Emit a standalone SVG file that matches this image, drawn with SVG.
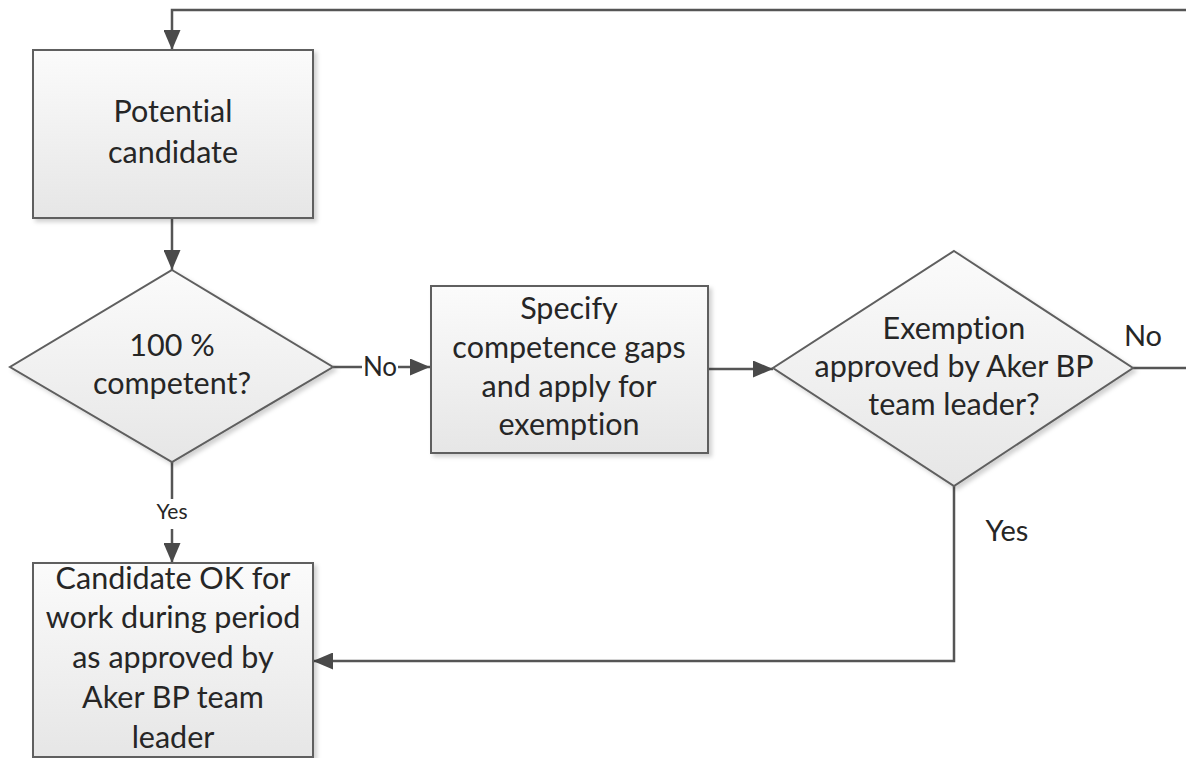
<svg xmlns="http://www.w3.org/2000/svg" width="1186" height="758" viewBox="0 0 1186 758">
<defs>
<linearGradient id="g" x1="0" y1="0" x2="0" y2="1">
<stop offset="0" stop-color="#fbfbfb"/>
<stop offset="1" stop-color="#e6e6e6"/>
</linearGradient>
<filter id="sh" x="-10%" y="-10%" width="125%" height="125%">
<feDropShadow dx="3" dy="3" stdDeviation="2" flood-color="#000" flood-opacity="0.18"/>
</filter>
<marker id="ah" markerUnits="userSpaceOnUse" markerWidth="21" markerHeight="17" refX="20" refY="8.5" orient="auto">
<path d="M0,0 L20,8.5 L0,17 z" fill="#4a4a4a"/>
</marker>
</defs>
<style>
.n{fill:url(#g);stroke:#5f5f5f;stroke-width:2;filter:url(#sh)}
.t{font-family:Lato,"Open Sans",sans-serif;font-size:30.5px;fill:#262626;text-anchor:middle;font-variant-ligatures:none;font-feature-settings:"liga" 0}
.c{fill:none;stroke:#555;stroke-width:2.5}
.l{font-family:Lato,"Open Sans",sans-serif;fill:#262626;text-anchor:middle;font-variant-ligatures:none}
</style>
<g id="connectors">
<path class="c" d="M1186,10 H172 V50" marker-end="url(#ah)"/>
<path class="c" d="M172,218 V270" marker-end="url(#ah)"/>
<path class="c" d="M333,367 H362"/>
<path class="c" d="M398,367 H430" marker-end="url(#ah)"/>
<path class="c" d="M172,462 V499"/>
<path class="c" d="M172,529 V563" marker-end="url(#ah)"/>
<path class="c" d="M708,369 H773" marker-end="url(#ah)"/>
<path class="c" d="M1133,368 H1186"/>
<path class="c" d="M954,486 V661 H313" marker-end="url(#ah)"/>
<text class="l" x="380" y="376" font-size="26">No</text>
<text class="l" x="172" y="519" font-size="21">Yes</text>
<text class="l" x="1143" y="346" font-size="29">No</text>
<text class="l" x="1007" y="541" font-size="29">Yes</text>
</g>
<g id="potential-candidate">
<rect class="n" x="33" y="50" width="280" height="168"/>
<text class="t" x="173" y="122">Potential</text>
<text class="t" x="173" y="163">candidate</text>
</g>
<g id="competent">
<polygon class="n" points="172,270 333,367 172,462 10,367"/>
<text class="t" x="172" y="356">100 %</text>
<text class="t" x="172" y="394">competent?</text>
</g>
<g id="specify">
<rect class="n" x="431" y="286" width="277" height="167"/>
<text class="t" x="569" y="319">Specify</text>
<text class="t" x="569" y="358">competence gaps</text>
<text class="t" x="569" y="397">and apply for</text>
<text class="t" x="569" y="435">exemption</text>
</g>
<g id="exemption-approved">
<polygon class="n" points="954,251 1133,368 954,486 773,368"/>
<text class="t" x="954" y="339">Exemption</text>
<text class="t" x="954" y="377">approved by Aker BP</text>
<text class="t" x="954" y="415">team leader?</text>
</g>
<g id="candidate-ok">
<rect class="n" x="33" y="563" width="280" height="194"/>
<text class="t" x="173" y="589">Candidate OK for</text>
<text class="t" x="173" y="628">work during period</text>
<text class="t" x="173" y="668">as approved by</text>
<text class="t" x="173" y="708">Aker BP team</text>
<text class="t" x="173" y="748">leader</text>
</g>
</svg>
